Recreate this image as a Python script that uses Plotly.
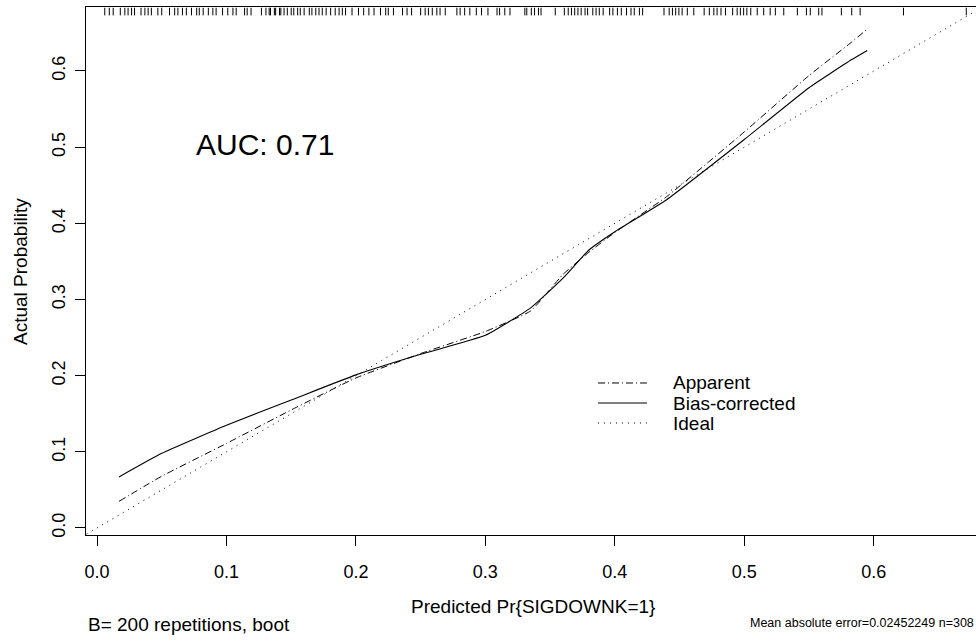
import plotly.graph_objects as go

# ---------------- data ----------------
pred_x = [0.017, 0.05, 0.10, 0.15, 0.20, 0.25, 0.30, 0.335, 0.36, 0.38, 0.40, 0.44, 0.50, 0.55, 0.583, 0.595]
apparent_y = [0.035, 0.068, 0.111, 0.155, 0.197, 0.229, 0.258, 0.285, 0.333, 0.362, 0.388, 0.435, 0.520, 0.594, 0.638, 0.655]
bias_corrected_y = [0.067, 0.098, 0.135, 0.168, 0.201, 0.228, 0.253, 0.289, 0.328, 0.365, 0.389, 0.431, 0.510, 0.578, 0.615, 0.627]
ideal_x = [-0.02, 0.72]
ideal_y = [-0.02, 0.72]

rug_x = [0.006, 0.0095, 0.0125, 0.018, 0.0215, 0.024, 0.0267, 0.029, 0.034, 0.037, 0.0395, 0.042,
         0.047, 0.050, 0.056, 0.060, 0.0625, 0.066, 0.069, 0.073, 0.077, 0.079, 0.082, 0.086, 0.0895,
         0.092, 0.097, 0.101, 0.105, 0.1075, 0.114, 0.116, 0.119, 0.127, 0.1305, 0.133, 0.134, 0.137,
         0.138, 0.141, 0.142, 0.1445, 0.147, 0.150, 0.152, 0.155, 0.157, 0.160, 0.164, 0.166, 0.169,
         0.1715, 0.174, 0.177, 0.1805, 0.184, 0.187, 0.1895, 0.192, 0.197, 0.202, 0.206, 0.210, 0.214,
         0.219, 0.223, 0.225, 0.229, 0.236, 0.2395, 0.243, 0.250, 0.2535, 0.256, 0.259, 0.2625, 0.265,
         0.269, 0.278, 0.2805, 0.284, 0.288, 0.293, 0.297, 0.302, 0.309, 0.311, 0.315, 0.319, 0.3305,
         0.332, 0.3355, 0.338, 0.341, 0.343, 0.354, 0.361, 0.364, 0.3665, 0.369, 0.3715, 0.374, 0.377,
         0.379, 0.383, 0.3855, 0.388, 0.391, 0.396, 0.3985, 0.402, 0.405, 0.409, 0.4125, 0.415, 0.419,
         0.4215, 0.438, 0.442, 0.4445, 0.447, 0.4495, 0.452, 0.456, 0.461, 0.469, 0.473, 0.4765, 0.479,
         0.482, 0.4855, 0.491, 0.4945, 0.497, 0.4995, 0.502, 0.505, 0.510, 0.515, 0.520, 0.524, 0.5305,
         0.541, 0.548, 0.551, 0.5575, 0.560, 0.575, 0.583, 0.5895, 0.623, 0.6715]

tick_vals = [0.0, 0.1, 0.2, 0.3, 0.4, 0.5, 0.6]
tick_text = ["0.0", "0.1", "0.2", "0.3", "0.4", "0.5", "0.6"]
legend_labels = ["Apparent", "Bias-corrected", "Ideal"]

# ---------------- style ----------------
FONT = "Liberation Sans, Arial, Helvetica, sans-serif"
RUG_TOP, RUG_BOTTOM = 0.683, 0.673
dash_apparent = "7px,3px,1px,3px"
dash_ideal = "1px,5px"

fig = go.Figure()

fig.add_trace(go.Scatter(x=ideal_x, y=ideal_y, mode="lines",
                         line=dict(color="black", width=1, dash=dash_ideal),
                         name=legend_labels[2], showlegend=False))
fig.add_trace(go.Scatter(x=pred_x, y=apparent_y, mode="lines",
                         line=dict(color="black", width=1, dash=dash_apparent, shape="spline", smoothing=0.4),
                         name=legend_labels[0], showlegend=False))
fig.add_trace(go.Scatter(x=pred_x, y=bias_corrected_y, mode="lines",
                         line=dict(color="black", width=1.1, shape="spline", smoothing=0.4),
                         name=legend_labels[1], showlegend=False))

rx, ry = [], []
for v in rug_x:
    rx += [v, v, None]
    ry += [RUG_TOP, RUG_BOTTOM, None]
fig.add_trace(go.Scatter(x=rx, y=ry, mode="lines", line=dict(color="black", width=1),
                         showlegend=False, hoverinfo="skip"))

# legend (R style, no box)
leg_rows = [0.2879, 0.25, 0.2121]
leg_dash = [dash_apparent, "solid", dash_ideal]
for lab, yy, dd in zip(legend_labels, leg_rows, leg_dash):
    fig.add_shape(type="line", xref="paper", yref="paper", x0=0.5753, x1=0.6303, y0=yy, y1=yy,
                  line=dict(color="black", width=1, dash=dd))
    fig.add_annotation(xref="paper", yref="paper", x=0.6573, y=yy, text=lab, showarrow=False,
                       xanchor="left", yanchor="middle", font=dict(size=19, color="black", family=FONT))

fig.add_annotation(x=0.13, y=0.503, xref="x", yref="y", text="AUC: 0.71", showarrow=False,
                   xanchor="center", yanchor="middle", font=dict(size=30, color="black", family=FONT))

fig.add_annotation(xref="paper", yref="paper", x=0.502, y=-0.136, text="Predicted Pr{SIGDOWNK=1}",
                   showarrow=False, xanchor="center", yanchor="middle",
                   font=dict(size=19, color="black", family=FONT))
fig.add_annotation(xref="paper", yref="paper", x=0.0, y=-0.170, text="B= 200 repetitions, boot",
                   showarrow=False, xanchor="left", yanchor="middle",
                   font=dict(size=19, color="black", family=FONT))
fig.add_annotation(xref="paper", yref="paper", x=1.0, y=-0.1667,
                   text="Mean absolute error=0.02452249 n=308",
                   showarrow=False, xanchor="right", yanchor="middle",
                   font=dict(size=12.5, color="black", family=FONT))
fig.add_annotation(xref="paper", yref="paper", x=-0.0742, y=0.5, text="Actual Probability",
                   showarrow=False, textangle=-90, xanchor="center", yanchor="middle",
                   font=dict(size=19, color="black", family=FONT))

fig.update_layout(
    width=976, height=643,
    margin=dict(l=86, r=0, t=7, b=108),
    paper_bgcolor="white", plot_bgcolor="white",
    font=dict(family=FONT, size=18, color="black"),
    showlegend=False,
    xaxis=dict(range=[-0.0085, 0.679], tickvals=tick_vals, ticktext=tick_text,
               showgrid=False, zeroline=False, showline=True, linecolor="black", linewidth=1,
               mirror=True, ticks="outside", ticklen=10, tickcolor="black", tickwidth=1,
               tickfont=dict(size=18, family=FONT, color="black"), ticklabelstandoff=10),
    yaxis=dict(range=[-0.0092, 0.684], tickvals=tick_vals, ticktext=tick_text,
               showgrid=False, zeroline=False, showline=True, linecolor="black", linewidth=1,
               ticks="outside", ticklen=10, tickcolor="black", tickwidth=1, tickangle=-90,
               tickfont=dict(size=18, family=FONT, color="black"), ticklabelstandoff=3),
)

fig.write_html("out.html")
